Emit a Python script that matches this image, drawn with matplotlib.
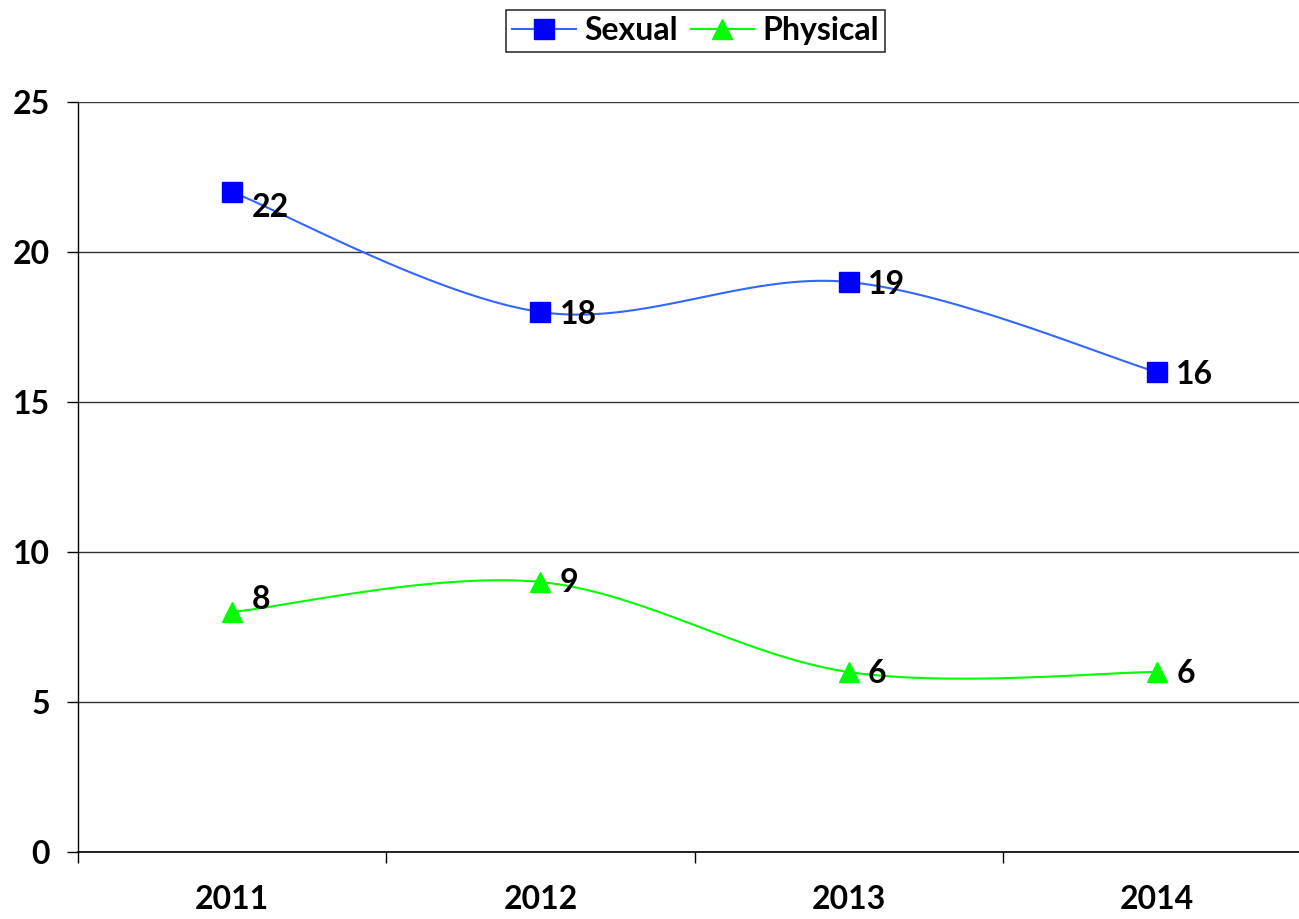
import numpy as np
import matplotlib
matplotlib.use("Agg")
import matplotlib.pyplot as plt

years = ["2011", "2012", "2013", "2014"]
sexual = [22, 18, 19, 16]
physical = [8, 9, 6, 6]


def smooth(xs, ys, n=40):
    # Catmull-Rom style bezier smoothing, like the "smoothed line" option
    xs = np.asarray(xs, float)
    ys = np.asarray(ys, float)
    px = np.concatenate([[xs[0]], xs, [xs[-1]]])
    py = np.concatenate([[ys[0]], ys, [ys[-1]]])
    out_x, out_y = [], []
    t = np.linspace(0, 1, n)
    for i in range(1, len(px) - 2):
        p0 = np.array([px[i], py[i]])
        p3 = np.array([px[i + 1], py[i + 1]])
        p1 = p0 + (np.array([px[i + 1], py[i + 1]]) - np.array([px[i - 1], py[i - 1]])) / 6
        p2 = p3 - (np.array([px[i + 2], py[i + 2]]) - np.array([px[i], py[i]])) / 6
        b = ((1 - t) ** 3)[:, None] * p0 + (3 * (1 - t) ** 2 * t)[:, None] * p1 \
            + (3 * (1 - t) * t ** 2)[:, None] * p2 + (t ** 3)[:, None] * p3
        out_x.extend(b[:, 0])
        out_y.extend(b[:, 1])
    return out_x, out_y


plt.rcParams['font.family'] = ['Lato', 'DejaVu Sans']
plt.rcParams['font.weight'] = 'bold'
fs = 23

fig = plt.figure(figsize=(12.99, 9.19), dpi=100)
# x range -0.5..3.5 runs slightly past the right edge of the picture
ax = fig.add_axes([78 / 1299, 1 - 852 / 919, 1233 / 1299, 750 / 919])

x = np.arange(len(years))

sx, sy = smooth(x, sexual)
px_, py_ = smooth(x, physical)
ax.plot(sx, sy, color='#3366ff', lw=1.5, zorder=3)
ax.plot(px_, py_, color='#00ff00', lw=1.5, zorder=3)
ax.plot(x, sexual, ls='none', marker='s', ms=14, color='#0000ff', zorder=4)
ax.plot(x, physical, ls='none', marker='^', ms=15, color='#00ff00', zorder=4)

# legend handles
h1, = ax.plot([], [], color='#3366ff', lw=1.5, marker='s', ms=14, mfc='#0000ff', mec='#0000ff')
h2, = ax.plot([], [], color='#00ff00', lw=1.5, marker='^', ms=15, mfc='#00ff00', mec='#00ff00')
leg = fig.legend([h1, h2], ['Sexual', 'Physical'], loc='upper center', bbox_to_anchor=(0.5355, 1.003),
                 ncol=2, frameon=True, fancybox=False, fontsize=fs, handlelength=2.0,
                 handletextpad=0.25, columnspacing=0.4, borderpad=0.2, borderaxespad=0.4,
                 edgecolor='black')
leg.get_frame().set_linewidth(1.2)

s_off = [-11, -2, -2, -2]
p_off = [9, 0, -1, -1]
for i in range(len(years)):
    ax.annotate(str(sexual[i]), (x[i], sexual[i]), xytext=(14, s_off[i]), textcoords='offset points',
                ha='left', va='center', fontsize=fs)
    ax.annotate(str(physical[i]), (x[i], physical[i]), xytext=(14, p_off[i]), textcoords='offset points',
                ha='left', va='center', fontsize=fs)

ax.set_xlim(-0.5, 3.5)
ax.set_ylim(0, 25)
ax.set_yticks([0, 5, 10, 15, 20, 25])
ax.set_xticks([-0.5, 0.5, 1.5, 2.5, 3.5])
ax.set_xticklabels([])
ax.set_xticks(x, minor=True)
ax.set_xticklabels(years, minor=True, fontsize=fs)
ax.tick_params(axis='x', which='minor', length=0, pad=24)
ax.tick_params(axis='x', which='major', length=8, width=1, direction='out')
ax.tick_params(axis='y', length=8, width=1, labelsize=fs, pad=12)
ax.grid(axis='y', color='#333333', lw=1)
ax.set_axisbelow(True)
for s in ['top', 'right']:
    ax.spines[s].set_visible(False)
ax.spines['left'].set_linewidth(1)
ax.spines['bottom'].set_linewidth(1.2)

fig.savefig('out.png', dpi=100)
